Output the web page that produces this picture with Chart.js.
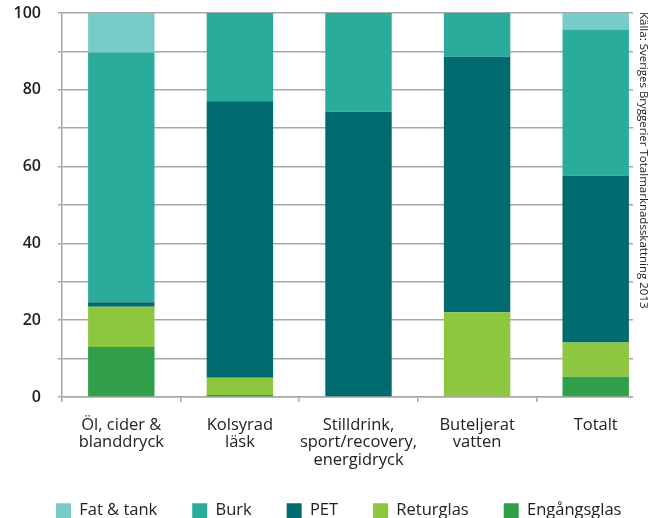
<!DOCTYPE html>
<html>
<head>
<meta charset="utf-8">
<script src="https://cdn.jsdelivr.net/npm/chart.js@4"></script>
<style>
  html, body { margin: 0; padding: 0; background: #fff; overflow: hidden; }
  #wrap { width: 680px; height: 538px; }
</style>
</head>
<body>
<div id="wrap"><canvas id="packChart"></canvas></div>
<script>
const categories = [
  ["Öl, cider &", "blanddryck"],
  ["Kolsyrad", "läsk"],
  ["Stilldrink,", "sport/recovery,", "energidryck"],
  ["Buteljerat", "vatten"],
  "Totalt"
];
// share in %, bottom segment first
const engangsglas = [13, 0.5, 0, 0, 5.3];
const returglas = [10.5, 4.5, 0, 22.1, 8.9];
const pet = [1.2, 72, 74.3, 66.5, 43.4];
const burk = [65, 23, 25.7, 11.4, 38.1];
const fatTank = [10.3, 0, 0, 0, 4.3];
const yTicks = [0, 20, 40, 60, 80, 100];
const source = "Källa: Sveriges Bryggerier Totalmarknadsskattning 2013";

const font = "'Open Sans', 'Noto Sans', sans-serif";
const gridColor = "#a8a8a8";

function noPad(scale) {
  scale.paddingTop = 0;
  scale.paddingBottom = 0;
  scale.paddingLeft = 0;
  scale.paddingRight = 0;
}

// trims gridline ends on the right, nudges the legend, writes the source note
const sideNote = {
  id: "sideNote",
  afterLayout(chart) {
    chart.legend.left += 11;
    chart.legend.right += 11;
    chart.legend.top -= 9;
    chart.legend.bottom -= 9;
  },
  beforeDatasetsDraw(chart) {
    const c = chart.ctx;
    c.save();
    c.fillStyle = "#fff";
    c.fillRect(633, 0, chart.width - 633, chart.chartArea.bottom + 8);
    c.restore();
  },
  afterDraw(chart) {
    const c = chart.ctx;
    c.save();
    c.translate(643, 12);
    c.rotate(Math.PI / 2);
    c.font = "11.5px " + font;
    c.fillStyle = "#222";
    c.textBaseline = "middle";
    c.textAlign = "left";
    c.fillText(source, 0, 0);
    c.restore();
  }
};

const ctx = document.getElementById("packChart").getContext("2d");
new Chart(ctx, {
  type: "bar",
  data: {
    labels: categories,
    datasets: [
      { label: "Engångsglas", data: engangsglas, backgroundColor: "#319e49" },
      { label: "Returglas", data: returglas, backgroundColor: "#8dc63f" },
      { label: "PET", data: pet, backgroundColor: "#006b6e" },
      { label: "Burk", data: burk, backgroundColor: "#29ac9c" },
      { label: "Fat & tank", data: fatTank, backgroundColor: "#77ccc9" }
    ]
  },
  options: {
    responsive: true,
    maintainAspectRatio: false,
    animation: false,
    categoryPercentage: 1,
    barPercentage: 0.56,
    layout: { padding: { left: 10, right: 0, top: 13, bottom: 0 } },
    plugins: {
      tooltip: { enabled: false },
      legend: {
        position: "bottom",
        align: "start",
        reverse: true,
        labels: {
          boxWidth: 15,
          boxHeight: 15,
          padding: 35,
          color: "#222",
          font: { family: font, size: 16.5 }
        }
      }
    },
    scales: {
      x: {
        stacked: true,
        grid: {
          offset: true,
          drawOnChartArea: false,
          tickLength: 5,
          color: gridColor,
          lineWidth: 1.5
        },
        border: { color: gridColor, width: 1.5 },
        ticks: {
          color: "#222",
          padding: 14,
          maxRotation: 0,
          autoSkip: false,
          font: { family: font, size: 16.5, lineHeight: 1.07 }
        },
        afterFit(scale) { scale.height = 79.5; noPad(scale); }
      },
      y: {
        stacked: true,
        min: 0,
        max: 100,
        grid: { color: gridColor, lineWidth: 1.5, tickLength: 4 },
        border: { color: gridColor, width: 1.5 },
        ticks: {
          stepSize: 10,
          padding: 17,
          color: "#222",
          font: { family: font, size: 16, weight: "600" },
          callback: (v) => (yTicks.includes(v) ? v : "")
        },
        afterFit(scale) { scale.width = 52; noPad(scale); }
      },
      // spacer so the plot stops at the same place as the original
      spacer: {
        position: "right",
        display: true,
        grid: { display: false },
        border: { display: false },
        ticks: { display: false },
        afterFit(scale) { scale.width = 25; noPad(scale); }
      }
    }
  },
  plugins: [sideNote]
});
</script>
</body>
</html>
